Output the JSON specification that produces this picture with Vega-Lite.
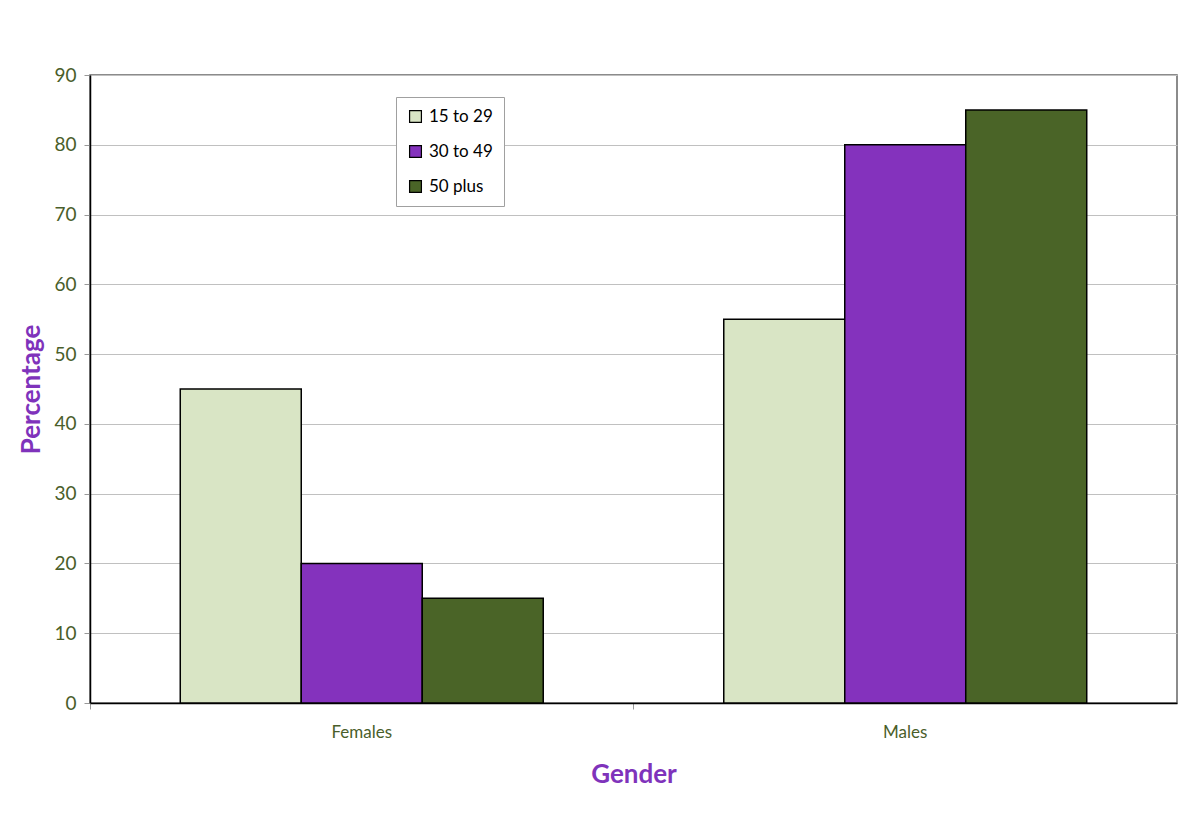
{
  "$schema": "https://vega.github.io/schema/vega-lite/v6.json",
  "width": 1087,
  "height": 628,
  "autosize": "none",
  "padding": {"left": 90, "top": 75, "right": 23, "bottom": 119},
  "background": "white",
  "data": {
    "values": [
      {"gender": "Females", "age": "15 to 29", "pct": 45},
      {"gender": "Females", "age": "30 to 49", "pct": 20},
      {"gender": "Females", "age": "50 plus", "pct": 15},
      {"gender": "Males", "age": "15 to 29", "pct": 55},
      {"gender": "Males", "age": "30 to 49", "pct": 80},
      {"gender": "Males", "age": "50 plus", "pct": 85}
    ]
  },
  "mark": {"type": "bar", "stroke": "black", "strokeWidth": 1.5},
  "encoding": {
    "x": {
      "field": "gender", "type": "nominal",
      "scale": {"paddingInner": 0, "paddingOuter": 0},
      "axis": {
        "title": "Gender", "labelAngle": 0, "bandPosition": 0,
        "labelFont": "Lato", "labelFontSize": 17, "labelColor": "#4a5e2a", "labelPadding": 15,
        "titleFont": "Lato", "titleFontSize": 26, "titleFontWeight": "bold", "titleColor": "#7f33bb", "titlePadding": 21,
        "domainColor": "black", "domainWidth": 1.5, "tickColor": "#999", "tickSize": 6
      }
    },
    "xOffset": {"field": "age", "type": "nominal", "scale": {"paddingInner": 0, "paddingOuter": 0.746}},
    "y": {
      "field": "pct", "type": "quantitative",
      "scale": {"domain": [0, 90], "nice": false},
      "axis": {
        "title": "Percentage", "values": [0, 10, 20, 30, 40, 50, 60, 70, 80, 90],
        "labelFont": "Lato", "labelFontSize": 19, "labelColor": "#4a5e2a", "labelPadding": 8,
        "titleFont": "Lato", "titleFontSize": 26, "titleFontWeight": "bold", "titleColor": "#7f33bb", "titlePadding": 9,
        "domainColor": "black", "domainWidth": 1.5, "tickColor": "#999", "tickSize": 6,
        "gridColor": "#c0c0c0", "gridWidth": 1
      }
    },
    "color": {
      "field": "age", "type": "nominal",
      "scale": {"domain": ["15 to 29", "30 to 49", "50 plus"], "range": ["#d9e5c5", "#8432bd", "#4a6427"]},
      "legend": {
        "title": null, "orient": "none", "legendX": 306, "legendY": 22,
        "symbolType": "square", "symbolSize": 140, "symbolStrokeColor": "black", "symbolStrokeWidth": 1.2,
        "labelFont": "Lato", "labelFontSize": 17, "labelColor": "black", "labelOffset": 5,
        "rowPadding": 17, "padding": 11, "strokeColor": "#a0a0a0", "fillColor": "white"
      }
    }
  },
  "config": {
    "view": {"stroke": "#666", "strokeWidth": 1.5}
  }
}
